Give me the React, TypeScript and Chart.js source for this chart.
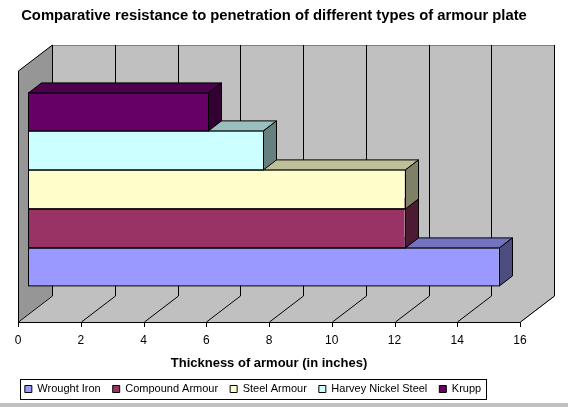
import React, { useEffect, useRef } from 'react';
import { Chart, registerables } from 'chart.js';

Chart.register(...registerables);

// ---- data ----
const categories: string[] = [''];
const seriesNames: string[] = ['Wrought Iron', 'Compound Armour', 'Steel Armour', 'Harvey Nickel Steel', 'Krupp'];
const seriesValues: number[] = [15, 12, 12, 7.5, 5.75];
const seriesColors: string[] = ['#9999FF', '#993366', '#FFFFCC', '#CCFFFF', '#660066'];
const xMin = 0;
const xMax = 16;
const xStep = 2;
const titleText = 'Comparative resistance to penetration of different types of armour plate';
const xTitleText = 'Thickness of armour (in inches)';

// ---- 3D style constants ----
const DX = 34; // wall depth
const DY = 26;
const BX = 10; // bar front face depth offset
const BY = 7.6;
const BDX = 13; // bar depth
const BDY = 10;
const WALL = '#C0C0C0';
const SIDE = '#969696';
const EDGE = '#808080';

function shade(hex: string, f: number): string {
  const n = parseInt(hex.slice(1), 16);
  const r = Math.round(((n >> 16) & 255) * f);
  const g = Math.round(((n >> 8) & 255) * f);
  const b = Math.round((n & 255) * f);
  return `rgb(${r},${g},${b})`;
}

function poly(ctx: CanvasRenderingContext2D, pts: number[][]) {
  ctx.beginPath();
  ctx.moveTo(pts[0][0], pts[0][1]);
  for (let i = 1; i < pts.length; i++) ctx.lineTo(pts[i][0], pts[i][1]);
  ctx.closePath();
}

function line(ctx: CanvasRenderingContext2D, x1: number, y1: number, x2: number, y2: number) {
  ctx.beginPath();
  ctx.moveTo(x1, y1);
  ctx.lineTo(x2, y2);
  ctx.stroke();
}

const threeD = {
  id: 'threeD',
  afterLayout(chart: any) {
    const tb = chart.titleBlock;
    if (tb) {
      tb.left = 0;
      tb.right = 548;
    }
    const lg = chart.legend;
    if (lg) {
      lg.left -= 16;
      lg.right -= 16;
    }
  },
  beforeDraw(chart: any) {
    const ctx = chart.ctx;
    ctx.save();
    ctx.fillStyle = '#ffffff';
    ctx.fillRect(0, 0, chart.width, chart.height);
    ctx.fillStyle = WALL;
    ctx.fillRect(0, 403, chart.width, chart.height - 403);
    ctx.restore();
  },
  beforeDatasetsDraw(chart: any) {
    const ctx: CanvasRenderingContext2D = chart.ctx;
    const a = chart.chartArea;
    const xs = chart.scales.x;
    const L = Math.round(a.left);
    const R = Math.round(a.right);
    const T = Math.round(a.top);
    const B = Math.round(a.bottom);
    ctx.save();
    // side wall
    ctx.fillStyle = SIDE;
    poly(ctx, [[L, T], [L + DX, T - DY], [L + DX, B - DY], [L, B]]);
    ctx.fill();
    // back wall
    ctx.fillStyle = WALL;
    ctx.fillRect(L + DX, T - DY, R - L, B - T);
    // floor
    poly(ctx, [[L, B], [R, B], [R + DX, B - DY], [L + DX, B - DY]]);
    ctx.fill();
    ctx.lineWidth = 1;
    ctx.strokeStyle = EDGE;
    line(ctx, L + DX, T - DY + 0.5, R + DX + 0.5, T - DY + 0.5);
    line(ctx, R + DX + 0.5, T - DY, R + DX + 0.5, B - DY);
    line(ctx, R + 0.5, B, R + DX + 0.5, B - DY);
    ctx.strokeStyle = '#000000';
    for (const t of xs.ticks) {
      const px = Math.round(xs.getPixelForValue(t.value));
      line(ctx, px + DX + 0.5, T - DY, px + DX + 0.5, B - DY);
      line(ctx, px + 0.5, B, px + DX + 0.5, B - DY);
      line(ctx, px + 0.5, B, px + 0.5, B + 5);
    }
    line(ctx, L + 0.5, T, L + 0.5, B);
    line(ctx, L, B + 0.5, R + 1, B + 0.5);
    line(ctx, L + 0.5, T, L + DX + 0.5, T - DY);
    ctx.restore();
    ctx.save();
    ctx.translate(BX, -BY);
  },
  afterDatasetDraw(chart: any, args: any) {
    const ctx: CanvasRenderingContext2D = chart.ctx;
    const meta = args.meta;
    const ds = chart.data.datasets[meta.index];
    const color: string = ds.backgroundColor;
    ctx.save();
    ctx.lineWidth = 1;
    ctx.strokeStyle = '#000000';
    meta.data.forEach((bar: any) => {
      const p = bar.getProps(['x', 'y', 'base', 'height'], true);
      const x = Math.round(p.x) + 0.5;
      const base = Math.round(p.base) + 0.5;
      const top = Math.round(p.y - p.height / 2) + 0.5;
      const bottom = Math.round(p.y + p.height / 2) + 0.5;
      // front outline
      ctx.strokeRect(base, top, x - base, bottom - top);
      // top face
      ctx.fillStyle = shade(color, 0.75);
      poly(ctx, [[base, top], [x, top], [x + BDX, top - BDY], [base + BDX, top - BDY]]);
      ctx.fill();
      ctx.stroke();
      // side face
      ctx.fillStyle = shade(color, 0.5);
      poly(ctx, [[x, top], [x + BDX, top - BDY], [x + BDX, bottom - BDY], [x, bottom]]);
      ctx.fill();
      ctx.stroke();
    });
    ctx.restore();
  },
  afterDatasetsDraw(chart: any) {
    chart.ctx.restore();
  },
  afterDraw(chart: any) {
    const lg = chart.legend;
    if (!lg || !lg.legendHitBoxes || !lg.legendHitBoxes.length) return;
    const hb = lg.legendHitBoxes;
    const first = hb[0];
    const last = hb[hb.length - 1];
    const ctx: CanvasRenderingContext2D = chart.ctx;
    const l = Math.round(first.left) - 4.5;
    const r = Math.round(last.left + last.width) + 5.5;
    const t = Math.round(first.top) - 4.5;
    const b = Math.round(first.top + first.height) + 4.5;
    ctx.save();
    ctx.strokeStyle = '#000000';
    ctx.lineWidth = 1;
    ctx.strokeRect(l, t, r - l, b - t);
    ctx.restore();
  },
};

export default function App() {
  const ref = useRef<HTMLCanvasElement | null>(null);

  useEffect(() => {
    document.body.style.margin = '0';
    if (!ref.current) return;
    Chart.defaults.font.family = 'Arial, "Liberation Sans", sans-serif';
    Chart.defaults.color = '#000000';

    const order = seriesNames.map((_, i) => i).reverse();
    const datasets = order.map((i) => ({
      label: seriesNames[i],
      data: [seriesValues[i]],
      backgroundColor: seriesColors[i],
      borderColor: '#000000',
      borderWidth: 0,
      categoryPercentage: 0.772,
      barPercentage: 1,
      clip: false as any,
    }));

    const chart = new Chart(ref.current, {
      type: 'bar',
      data: { labels: categories, datasets },
      plugins: [threeD as any],
      options: {
        indexAxis: 'y',
        animation: false,
        responsive: true,
        maintainAspectRatio: false,
        layout: { padding: { left: 18, right: 48, top: 0, bottom: 2.5 } },
        scales: {
          x: {
            type: 'linear',
            min: xMin,
            max: xMax,
            ticks: { stepSize: xStep, padding: 3, font: { size: 12 }, color: '#000000' },
            grid: { display: false },
            border: { display: false },
            title: {
              display: true,
              text: xTitleText,
              font: { size: 13, weight: 'bold' },
              color: '#000000',
              padding: { top: 0, bottom: 0 },
            },
            afterFit: (scale: any) => {
              scale.height = 49.5;
            },
          },
          y: {
            type: 'category',
            display: false,
          },
        },
        plugins: {
          title: {
            display: true,
            text: titleText,
            font: { size: 14.8, weight: 'bold' },
            color: '#000000',
            padding: { top: 7.2, bottom: 46 },
          },
          legend: {
            display: true,
            position: 'bottom',
            reverse: true,
            labels: {
              boxWidth: 7,
              boxHeight: 7,
              padding: 12,
              font: { size: 11 },
              color: '#000000',
              generateLabels: (c: any) => {
                const items = (Chart.defaults.plugins.legend.labels as any).generateLabels(c);
                return items.map((it: any) => ({ ...it, lineWidth: 1, strokeStyle: '#000000' }));
              },
            },
          },
          tooltip: { enabled: false },
        },
      } as any,
    });
    return () => chart.destroy();
  }, []);

  return (
    <div style={{ width: 568, height: 407, position: 'relative' }}>
      <canvas ref={ref} />
    </div>
  );
}
